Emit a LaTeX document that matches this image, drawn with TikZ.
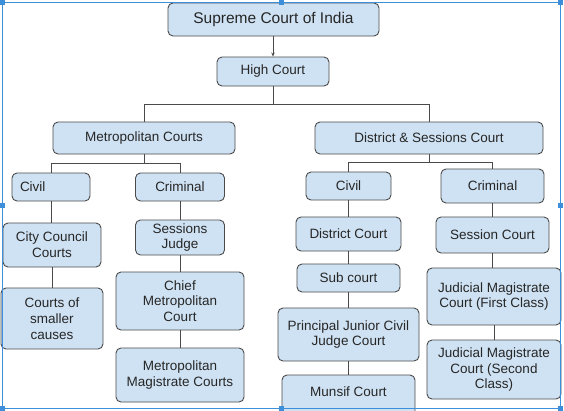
\documentclass[tikz,border=0pt]{standalone}
\usepackage{fontspec}
\setmainfont{Liberation Sans}
\usetikzlibrary{arrows.meta}
\definecolor{boxfill}{HTML}{CFE2F3}
\definecolor{boxline}{HTML}{4A4A4A}
\definecolor{textgray}{HTML}{262626}
\definecolor{selblue}{HTML}{3D8FDB}
\begin{document}
\begin{tikzpicture}[x=1pt, y=-1pt,
		court/.style={draw=boxline, line width=0.9pt, fill=boxfill, rounded corners=5pt, align=center, inner sep=0pt, text=textgray, font=\fontsize{13.5}{15.7}\selectfont},
		link/.style={draw=boxline, line width=0.9pt},
		handle/.style={fill=selblue, draw=none}]
				\useasboundingbox (0, 0) rectangle (564, 410);
				\clip (0, 0) rectangle (564, 410);
				\coordinate (busTop) at (273, 104);
				\coordinate (busMetro) at (144, 163);
				\coordinate (busDist) at (429, 162);
				
				\node[court, minimum width=211pt, minimum height=33pt, font=\fontsize{15.5}{18}\selectfont] (supreme) at (273.5, 19.5) {Supreme Court of India};
				\node[court, minimum width=112pt, minimum height=29pt] (high) at (273, 71.5) {High Court};
				\node[court, minimum width=182pt, minimum height=32pt] (metro) at (144, 138) {Metropolitan Courts};
				\node[court, minimum width=228pt, minimum height=32pt] (district) at (429, 138) {District \& Sessions Court};
				
				\node[court, minimum height=28pt, text width=62pt, inner xsep=8pt, align=left] (civilA) at (51, 187) {Civil};
				\node[court, minimum width=89pt, minimum height=28pt] (criminalA) at (180, 187) {Criminal};
				\node[court, minimum width=85pt, minimum height=28pt] (civilB) at (348.5, 186) {Civil};
				\node[court, minimum width=103pt, minimum height=34pt] (criminalB) at (492.5, 186) {Criminal};
				
				\node[court, minimum width=98pt, minimum height=44pt] (city) at (52, 245) {City Council\\Courts};
				\node[court, minimum width=102pt, minimum height=61pt] (smaller) at (52, 318.5) {Courts of\\smaller\\causes};
				
				\node[court, minimum width=89pt, minimum height=35pt] (sessJudge) at (180, 237.5) {Sessions\\Judge};
				\node[court, minimum width=128pt, minimum height=58pt] (chief) at (180, 301) {Chief\\Metropolitan\\Court};
				\node[court, minimum width=128pt, minimum height=54pt] (metroMag) at (180, 375) {Metropolitan\\Magistrate Courts};
				
				\node[court, minimum width=105pt, minimum height=34pt] (distCourt) at (348.5, 234) {District Court};
				\node[court, minimum width=103pt, minimum height=28pt] (subCourt) at (348.5, 278) {Sub court};
				\node[court, minimum width=141pt, minimum height=53pt] (junior) at (348.5, 334.5) {Principal Junior Civil\\Judge Court};
				\node[court, minimum width=133pt, minimum height=42pt, text depth=0pt] (munsif) at (348.5, 396) {};
				\node[text=textgray, font=\fontsize{13.5}{15.7}\selectfont] (munsifText) at (348.5, 392) {Munsif Court};
				
				\node[court, minimum width=113pt, minimum height=36pt] (sessCourt) at (492.5, 235) {Session Court};
				\node[court, minimum width=134pt, minimum height=57pt] (magFirst) at (494, 296.5) {Judicial Magistrate\\Court (First Class)};
				\node[court, minimum width=134pt, minimum height=59pt] (magSecond) at (494, 369.5) {Judicial Magistrate\\Court (Second\\Class)};
				
				\draw[link, -{Stealth[length=4pt, width=3.5pt]}] (supreme.south -| high.north) -- (high.north);
				\draw[link] (high.south) -- (busTop) -| (metro.north);
				\draw[link] (busTop) -| (district.north);
				\draw[link] (metro.south) -- (busMetro) -| (civilA.north);
				\draw[link] (busMetro) -| (criminalA.north);
				\draw[link] (district.south) -- (busDist) -| (civilB.north);
				\draw[link] (busDist) -| (criminalB.north);
				
				\draw[link] (civilA.south) -- (civilA.south |- city.north);
				\draw[link] (city.south) -- (smaller.north);
				\draw[link] (criminalA.south) -- (sessJudge.north);
				\draw[link] (sessJudge.south) -- (chief.north);
				\draw[link] (chief.south) -- (metroMag.north);
				\draw[link] (civilB.south) -- (distCourt.north);
				\draw[link] (distCourt.south) -- (subCourt.north);
				\draw[link] (subCourt.south) -- (junior.north);
				\draw[link] (junior.south) -- (munsif.north);
				\draw[link] (criminalB.south) -- (sessCourt.north);
				\draw[link] (sessCourt.south) -- (sessCourt.south |- magFirst.north);
				\draw[link] (magFirst.south) -- (magSecond.north);
				
				\draw[selblue, line width=0.9pt] (2, 2.5) rectangle (560.5, 408);
				\foreach \hx in {2, 281, 560.5} {
					\foreach \hy in {2.5, 205, 408} {
						\ifdim \hx pt=281pt \ifdim \hy pt=205pt \else
							\fill[handle] (\hx-2.5, \hy-2.5) rectangle ++(5, 5);
						\fi \else
							\fill[handle] (\hx-2.5, \hy-2.5) rectangle ++(5, 5);
						\fi
					}
				}
			\end{tikzpicture}
\end{document}
